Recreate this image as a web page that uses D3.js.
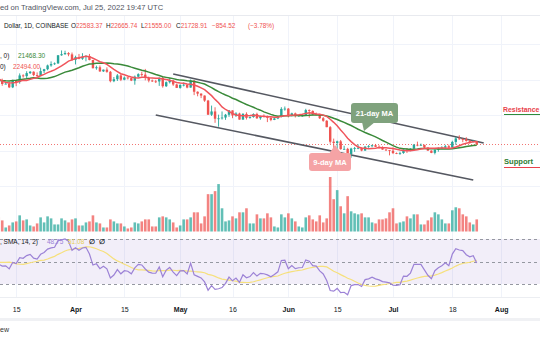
<!DOCTYPE html>
<html><head><meta charset="utf-8">
<script src="https://cdn.jsdelivr.net/npm/d3@7"></script>
<style>
body{margin:0;background:#fff}
svg{display:block}
text{font-family:"Liberation Sans",Arial,sans-serif}
</style>
</head><body>
<svg id="c" width="540" height="340"></svg>
<script>
// ---------- DATA (daily BTC/USD, Coinbase) ----------
const startDate = "2022-03-10";
const open = [
41980,39440,38730,38810,37790,39670,39280,41140,40950,41800,42190,41260,41000,42370,42900,43960,44340,44540,46820,47130,47450,47070,
45530,46290,45840,46430,46610,45500,43180,43450,42290,42780,42160,39530,40080,41150,39940,40550,40390,39700,40800,41500,41370,40480,39710,39470,39450,40430,38110,39240,39740,38600,
37640,38470,38520,37730,39690,36550,36010,35480,34060,30080,31000,28950,29050,29280,30070,31300,29860,30420,28700,30300,29180,29430,30280,29090,29650,29540,29200,28620,29020,29470,31720,
31790,29800,30460,29700,29860,29900,31370,31130,30200,30110,29090,28380,26570,22480,22130,22580,20380,20450,19010,20550,20710,20730,19990,21100,21230,21490,21030,20730,20260,20100,
19940,19280,19240,19300,20230,20200,20550,21620,21600,21600,20850,19970,19330,20220,20590,20830,21200,20790,22420,23400,23230,23160,22690,22450,22583.37];
const high = [
42000,40240,39360,39300,39940,39860,41720,41470,42330,42400,42300,42000,43350,43000,44200,45100,44800,46900,48190,48100,47700,47600,
46700,47200,47400,46880,47200,45500,43900,43960,42800,43420,42400,40700,41550,41500,40860,40700,40600,41120,41750,42200,42980,40800,39990,39900,40600,40800,39450,40380,39920,38800,
38650,39160,38650,40000,39840,36650,36130,35500,34250,32650,32180,30100,31000,30300,31410,31300,30780,30650,30530,30750,29600,30480,30650,29830,30180,29860,29380,29200,29550,32200,32400,
31960,30650,30680,29960,30160,31750,31580,31320,30680,30330,29440,28540,26880,23350,22780,22970,21330,20750,20780,21000,21720,20860,21200,21520,21600,21850,21480,21180,20400,20150,
20870,19430,19650,20320,20700,20660,21840,22500,21950,21600,20850,20050,20300,20880,21200,21600,21650,22750,23780,24280,23440,23750,23000,23000,22665.74];
const low = [
38550,38230,38660,37580,37580,38120,38820,40530,40140,41540,40930,40500,40900,41800,42600,43600,44100,44400,46680,46950,46550,45200,
44250,45700,45530,45120,45400,43120,42750,42130,42130,41900,39200,39250,39580,39550,39770,40000,39550,38540,40570,40850,39750,39200,39300,39000,38200,37700,37880,38880,38200,37600,
37400,38060,37520,37670,35600,35270,34760,33710,30030,29730,27800,26700,28700,28630,29480,29100,29450,28690,28680,28730,28950,29230,28880,28650,29300,28000,28250,28560,28830,29300,31210,
29320,29580,29300,29470,29500,29880,29250,29860,29930,28870,28100,26560,21900,20080,20080,20230,20240,17600,17960,19630,20360,19780,19890,20750,20900,20990,20540,20200,19850,18630,
19000,18980,18780,19050,19300,19800,20240,21200,21310,20650,19900,19250,18900,19650,20400,20500,20760,20770,21600,23000,22340,22500,21950,22280,21555.00];
const close = [
39440,38730,38810,37790,39670,39280,41140,40950,41800,42190,41260,41000,42370,42900,43960,44340,44540,46820,47130,47450,47070,45530,
46290,45840,46430,46610,45500,43180,43450,42290,42780,42160,39530,40080,41150,39940,40550,40390,39700,40800,41500,41370,40480,39710,39470,39450,40430,38110,39240,39740,38600,37640,
38470,38520,37730,39690,36550,36010,35480,34060,30080,31000,28950,29050,29280,30070,31300,29860,30420,28700,30300,29180,29430,30280,29090,29650,29540,29200,28620,29020,29470,31720,31790,
29800,30460,29700,29860,29900,31370,31130,30200,30110,29090,28380,26570,22480,22130,22580,20380,20450,19010,20550,20710,20730,19990,21100,21230,21490,21030,20730,20260,20100,19940,
19280,19240,19300,20230,20200,20550,21620,21600,21600,20850,19970,19330,20220,20590,20830,21200,20790,22420,23400,23230,23160,22690,22450,22583.37,21728.91];
// volume, thousand BTC
const volume = [
14,11,4,6,9,10,16,11,12,6,5,8,14,9,15,13,7,7,13,11,9,12,
13,6,6,9,10,16,9,8,4,4,12,10,8,8,5,3,4,9,8,10,12,12,5,5,14,15,14,12,9,4,
6,12,12,14,19,19,8,15,37,37,40,47,23,10,11,15,13,19,19,23,8,8,17,13,13,18,14,5,4,17,14,
18,13,10,5,4,14,16,12,10,16,9,13,54,32,41,25,18,35,20,18,17,18,14,14,9,8,12,12,13,19,
23,8,9,10,15,13,17,17,7,7,11,14,19,17,12,8,8,21,24,23,17,15,9,7,12];
// closes before the first visible day (Jan 20 – Mar 9), for the indicators
const warmupCloses = [40680,36460,35030,36280,36650,36960,36820,37140,37720,38170,37920,38480,
38740,36900,37330,41570,41410,42410,43840,44040,44370,43530,42380,42210,42050,42530,44540,43870,40550,40000,40110,38380,37020,38270,37270,38340,39220,39120,37710,43170,
44420,43920,42450,39150,39400,38420,37990,38740,41980];

const priceGrid = [50000,40000,30000,20000,10000];
const tickDates = ["2022-03-15","2022-04-01","2022-04-15","2022-05-01","2022-05-16","2022-06-01","2022-06-15","2022-07-01","2022-07-18","2022-08-01"];
const tickLabels = ["15","Apr","15","May","16","Jun","15","Jul","18","Aug"];
const rsiLevels = [70,50,30];
const upperChannel = [["2022-04-29",41550],["2022-07-27",22110]];
const lowerChannel = [["2022-04-24",30000],["2022-07-24",11700]];
const lastClose = 21728.91;

// ---------- SETUP ----------
const W=540,H=340;
const svg=d3.select("#c");
svg.append("rect").attr("width",W).attr("height",H).attr("fill","#fff");
const parse=d3.utcParse("%Y-%m-%d");
const t0=parse(startDate);
const dates=close.map((_,i)=>d3.utcDay.offset(t0,i));

const x=d3.scaleUtc().domain([parse("2022-04-01"),parse("2022-07-01")]).range([75.5,393]);
const y=d3.scaleLinear().domain([20000,50000]).range([150.5,44]);
const vy=d3.scaleLinear().domain([0,54]).range([231.5,177]);
const ry=d3.scaleLinear().domain([30,70]).range([284,239]);

const UP="#26a69a",DN="#ef5350";

// indicators
const all=warmupCloses.concat(close), n0=warmupCloses.length;
function sma(arr,len){return arr.map((v,i)=>{if(i<len-1)return null;const s=arr.slice(i-len+1,i+1);if(s.some(q=>q==null))return null;return d3.mean(s);});}
function rsi(arr,len){const out=arr.map(()=>null);let ag=0,al=0;
  for(let i=1;i<arr.length;i++){const ch=arr[i]-arr[i-1],g=Math.max(ch,0),l=Math.max(-ch,0);
    if(i<=len){ag+=g;al+=l;if(i===len){ag/=len;al/=len;out[i]=100-100/(1+ag/al);}}
    else{ag=(ag*(len-1)+g)/len;al=(al*(len-1)+l)/len;out[i]=al===0?100:100-100/(1+ag/al);}}
  return out;}
const ma9=sma(all,9).slice(n0), ma21=sma(all,21).slice(n0);
const rsiAll=rsi(all,14), rsiMaAll=sma(rsiAll,14);
const rsiV=rsiAll.slice(n0), rsiMa=rsiMaAll.slice(n0);

// clip
const defs=svg.append("defs");
defs.append("clipPath").attr("id","cp").append("rect").attr("x",0).attr("y",16).attr("width",W).attr("height",218);
defs.append("clipPath").attr("id","cr").append("rect").attr("x",0).attr("y",234).attr("width",W).attr("height",63);

// grid
const g=svg.append("g");
g.selectAll(".hg").data(priceGrid).join("line").attr("x1",0).attr("x2",W)
 .attr("y1",d=>Math.round(y(d))+0.5).attr("y2",d=>Math.round(y(d))+0.5).attr("stroke","#f0f3fa");
g.selectAll(".vg").data(tickDates).join("line")
 .attr("x1",d=>Math.round(x(parse(d)))+0.5).attr("x2",d=>Math.round(x(parse(d)))+0.5)
 .attr("y1",16).attr("y2",297).attr("stroke","#f0f3fa");
svg.append("line").attr("x1",0).attr("x2",W).attr("y1",15.5).attr("y2",15.5).attr("stroke","#e8eaef");

// RSI pane
const rp=svg.append("g").attr("clip-path","url(#cr)");
rp.append("rect").attr("x",0).attr("width",W).attr("y",ry(70)).attr("height",ry(30)-ry(70)).attr("fill","rgba(126,87,194,0.1)");
rp.selectAll(".lv").data(rsiLevels).join("line").attr("x1",0).attr("x2",W)
 .attr("y1",d=>Math.round(ry(d))+0.5).attr("y2",d=>Math.round(ry(d))+0.5)
 .attr("stroke","#9598a1").attr("stroke-dasharray","3,3").attr("stroke-width",1);
const lineR=d3.line().defined(d=>d[1]!=null).x(d=>x(d[0])).y(d=>ry(d[1]));
rp.append("path").attr("d",lineR(dates.map((d,i)=>[d,rsiMa[i]]))).attr("fill","none").attr("stroke","#f6e07c").attr("stroke-width",1.2);
rp.append("path").attr("d",lineR(dates.map((d,i)=>[d,rsiV[i]]))).attr("fill","none").attr("stroke","#9c82d6").attr("stroke-width",1.2);
svg.append("line").attr("x1",0).attr("x2",W).attr("y1",297.5).attr("y2",297.5).attr("stroke","#eceef2");

// price pane
const pp=svg.append("g").attr("clip-path","url(#cp)");
// volume
pp.selectAll(".vol").data(volume).join("rect")
 .attr("x",(d,i)=>x(dates[i])-1.3).attr("width",2.6)
 .attr("y",d=>vy(d)).attr("height",d=>vy(0)-vy(d))
 .attr("fill",(d,i)=>close[i]>=open[i]?UP:DN).attr("opacity",0.72);
// current price line
pp.append("line").attr("x1",0).attr("x2",W).attr("y1",Math.round(y(lastClose))+0.5).attr("y2",Math.round(y(lastClose))+0.5)
 .attr("stroke",DN).attr("stroke-dasharray","1,2").attr("opacity",0.8);
// trend channel
const lineP=d3.line().x(d=>x(parse(d[0]))).y(d=>y(d[1]));
[upperChannel,lowerChannel].forEach(c=>pp.append("path").attr("d",lineP(c)).attr("stroke","#555861").attr("stroke-width",1.6).attr("fill","none"));
// candles
const cg=pp.append("g");
dates.forEach((d,i)=>{
  const cx=x(d), col=close[i]>=open[i]?UP:DN;
  cg.append("line").attr("x1",cx).attr("x2",cx).attr("y1",y(high[i])).attr("y2",y(low[i])).attr("stroke",col).attr("stroke-width",0.9);
  const top=y(Math.max(open[i],close[i])), bot=y(Math.min(open[i],close[i]));
  cg.append("rect").attr("x",cx-1.2).attr("width",2.4).attr("y",top).attr("height",Math.max(bot-top,0.8)).attr("fill",col);
});
// MAs
const lineM=d3.line().defined(d=>d[1]!=null).x(d=>x(d[0])).y(d=>y(d[1]));
pp.append("path").attr("d",lineM(dates.map((d,i)=>[d,ma21[i]]))).attr("fill","none").attr("stroke","#3a8a3a").attr("stroke-width",1.5);
pp.append("path").attr("d",lineM(dates.map((d,i)=>[d,ma9[i]]))).attr("fill","none").attr("stroke","#f0555c").attr("stroke-width",1.5);

// callouts
const c21=svg.append("g");
c21.append("path").attr("d","M362,122 L364,131 L375,122 Z").attr("fill","#7fa27d");
c21.append("rect").attr("x",351).attr("y",103).attr("width",47).attr("height",20).attr("rx",3).attr("fill","#7fa27d");
c21.append("text").attr("x",374.5).attr("y",116).attr("text-anchor","middle").attr("font-size",7.5).attr("font-weight","bold").attr("fill","#fff").text("21-day MA");
const c9=svg.append("g");
c9.append("path").attr("d","M329,154 L335,145 L342,154 Z").attr("fill","#f5a3a5");
c9.append("rect").attr("x",309).attr("y",153).attr("width",42).attr("height",18).attr("rx",3).attr("fill","#f5a3a5");
c9.append("text").attr("x",330).attr("y",165).attr("text-anchor","middle").attr("font-size",7.5).attr("font-weight","bold").attr("fill","#fff").text("9-day MA");

// Resistance / Support
svg.append("text").attr("x",503).attr("y",112).attr("font-size",6.9).attr("font-weight","bold").attr("fill","#e8414a").text("Resistance");
svg.append("line").attr("x1",504).attr("x2",W).attr("y1",114.5).attr("y2",114.5).attr("stroke","#2e8b3a").attr("stroke-width",1.2);
svg.append("text").attr("x",504).attr("y",164).attr("font-size",7.6).attr("font-weight","bold").attr("fill","#2e7d32").text("Support");
svg.append("line").attr("x1",504).attr("x2",W).attr("y1",167.5).attr("y2",167.5).attr("stroke","#e8414a").attr("stroke-width",1.2);

// header
svg.append("text").attr("x",0).attr("y",10).attr("font-size",7.6).attr("fill","#50535e").text("ed on TradingView.com, Jul 25, 2022 19:47 UTC");
const h2=svg.append("text").attr("y",27.5).attr("font-size",6.4).attr("fill","#131722");
h2.append("tspan").attr("x",4).text("Dollar, 1D, COINBASE");
[["O","22583.37",71],["H","22665.74",106],["L","21555.00",141],["C","21728.91",176]].forEach(p=>{
  h2.append("tspan").attr("x",p[2]).attr("fill","#131722").text(p[0]);
  h2.append("tspan").attr("fill",DN).text(p[1]);
});
h2.append("tspan").attr("x",212).attr("fill",DN).text("−854.52");
h2.append("tspan").attr("x",248).attr("fill",DN).text("(−3.78%)");

// legends
const l1=svg.append("text").attr("y",57.5).attr("font-size",6.5).attr("fill","#131722");
l1.append("tspan").attr("x",0).text(", 0)");
l1.append("tspan").attr("x",18).attr("fill","#3a8a3a").text("21468.30");
const l2=svg.append("text").attr("y",68.5).attr("font-size",6.5).attr("fill","#131722");
l2.append("tspan").attr("x",0).text("0)");
l2.append("tspan").attr("x",13).attr("fill",DN).text("22494.00");
const l3=svg.append("text").attr("y",243.5).attr("font-size",6.5).attr("fill","#131722");
l3.append("tspan").attr("x",0).text(", SMA, 14, 2)");
l3.append("tspan").attr("x",47).attr("fill","#9c82d6").text("48.75");
l3.append("tspan").attr("x",68).attr("fill","#e8cf55").text("51.08");
l3.append("tspan").attr("x",89).attr("font-weight","bold").text("∅");
l3.append("tspan").attr("x",99).attr("font-weight","bold").text("∅");

// time axis
const ax=svg.append("g").attr("transform","translate(0,304)")
 .call(d3.axisBottom(x).tickValues(tickDates.map(parse)).tickSize(0).tickFormat((d,i)=>tickLabels[i]));
ax.select(".domain").remove();
ax.selectAll("text").attr("font-size",7).attr("fill","#131722").attr("font-family","Liberation Sans, Arial, sans-serif")
 .attr("font-weight",(d,i)=>isNaN(+tickLabels[i])?"bold":"normal");

// bottom strip
svg.append("rect").attr("x",0).attr("y",318).attr("width",W).attr("height",3).attr("fill","#f0f1f4");
svg.append("text").attr("x",0).attr("y",332).attr("font-size",7).attr("fill","#333").text("ew");
</script>
</body></html>
